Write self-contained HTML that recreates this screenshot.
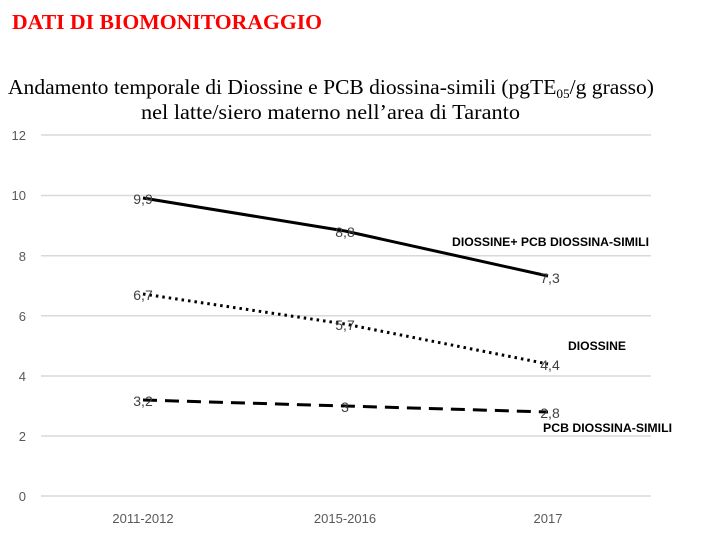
<!DOCTYPE html>
<html><head><meta charset="utf-8"><style>
html,body{margin:0;padding:0;background:#fff;}
svg{display:block;}
</style></head><body>
<svg width="701" height="549" xmlns="http://www.w3.org/2000/svg">
<text x="12" y="29" font-family="Liberation Serif, serif" font-weight="bold" font-size="21" fill="#ff0000" textLength="310" lengthAdjust="spacingAndGlyphs">DATI DI BIOMONITORAGGIO</text>
<text x="8" y="94" font-family="Liberation Serif, serif" font-size="21" fill="#000" textLength="646" lengthAdjust="spacingAndGlyphs">Andamento temporale di Diossine e PCB diossina-simili (pgTE<tspan font-size="13" dy="4">05</tspan><tspan dy="-4">/g grasso)</tspan></text>
<text x="141" y="119" font-family="Liberation Serif, serif" font-size="21" fill="#000" textLength="379" lengthAdjust="spacingAndGlyphs">nel latte/siero  materno nell’area di Taranto</text>
<g stroke="#d9d9d9" stroke-width="1.5">
<line x1="41" x2="651" y1="135" y2="135"/>
<line x1="41" x2="651" y1="195.5" y2="195.5"/>
<line x1="41" x2="651" y1="255.7" y2="255.7"/>
<line x1="41" x2="651" y1="315.8" y2="315.8"/>
<line x1="41" x2="651" y1="376" y2="376"/>
<line x1="41" x2="651" y1="436" y2="436"/>
<line x1="41" x2="651" y1="496" y2="496"/>
</g>
<g font-family="Liberation Sans, sans-serif" font-size="13" fill="#595959" text-anchor="end">
<text x="26" y="140">12</text><text x="26" y="200">10</text><text x="26" y="261">8</text>
<text x="26" y="321">6</text><text x="26" y="381">4</text><text x="26" y="441">2</text><text x="26" y="501">0</text>
</g>
<g font-family="Liberation Sans, sans-serif" font-size="13" fill="#595959" text-anchor="middle">
<text x="143" y="523">2011-2012</text><text x="345" y="523">2015-2016</text><text x="548" y="523">2017</text>
</g>
<polyline points="143,198 345,231 548,276" fill="none" stroke="#000" stroke-width="3"/>
<polyline points="143,294 345,324 548,364" fill="none" stroke="#000" stroke-width="3" stroke-dasharray="2.5,4"/>
<polyline points="143,400 345,406 548,412" fill="none" stroke="#000" stroke-width="3" stroke-dasharray="14,8"/>
<g font-family="Liberation Sans, sans-serif" font-size="14" fill="#404040" text-anchor="middle">
<text x="143" y="204">9,9</text><text x="345" y="237">8,8</text><text x="550" y="283">7,3</text>
<text x="143" y="300">6,7</text><text x="345" y="330">5,7</text><text x="550" y="370">4,4</text>
<text x="143" y="406">3,2</text><text x="345" y="412">3</text><text x="550" y="418">2,8</text>
</g>
<g font-family="Liberation Sans, sans-serif" font-size="12" font-weight="bold" fill="#000">
<text x="452" y="246" textLength="197" lengthAdjust="spacingAndGlyphs">DIOSSINE+ PCB DIOSSINA-SIMILI</text>
<text x="568" y="350" textLength="58" lengthAdjust="spacingAndGlyphs">DIOSSINE</text>
<text x="543" y="432" textLength="129" lengthAdjust="spacingAndGlyphs">PCB DIOSSINA-SIMILI</text>
</g>
</svg>
</body></html>
